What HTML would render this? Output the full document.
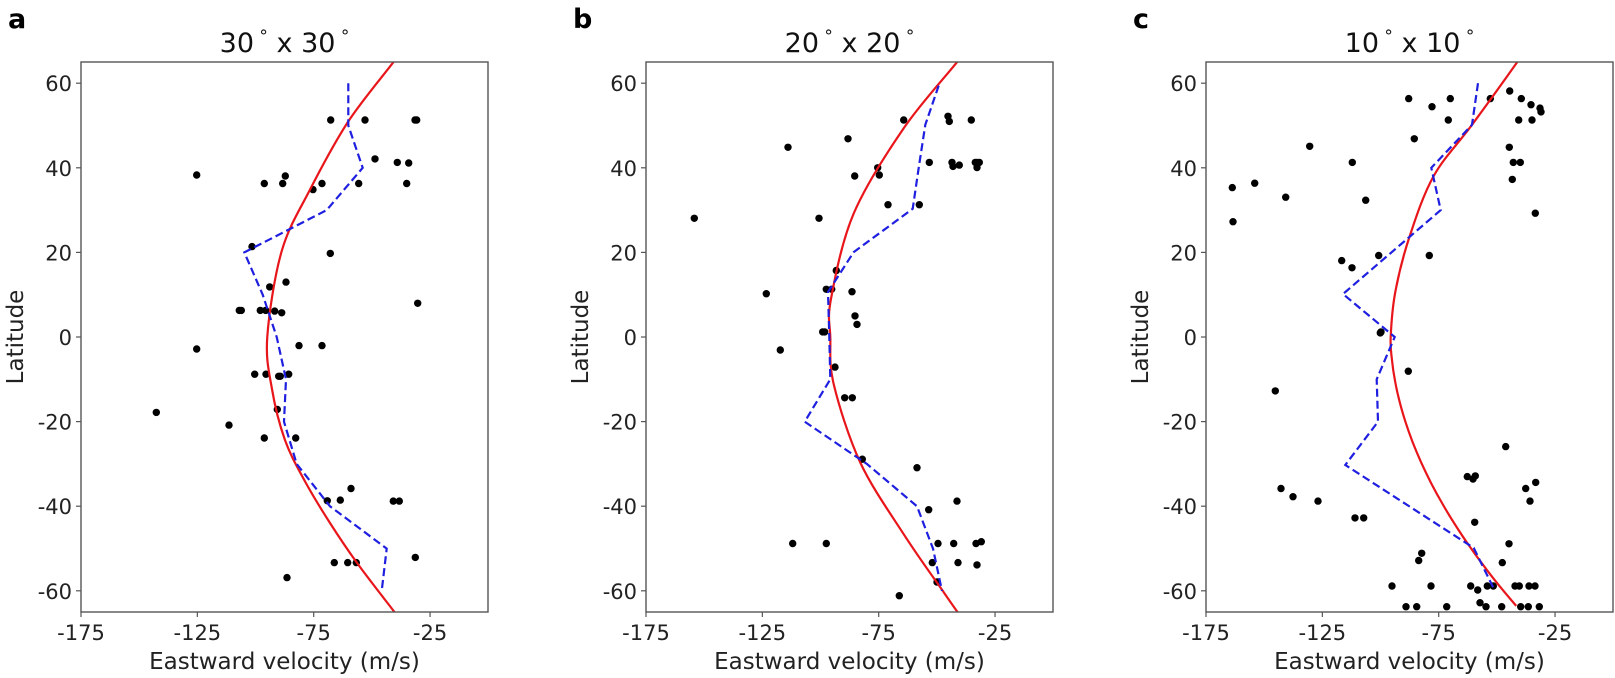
<!DOCTYPE html>
<html><head><meta charset="utf-8"><style>
html,body{margin:0;padding:0;background:#fff;}
svg{display:block;font-family:"DejaVu Sans","Liberation Sans",sans-serif;}
</style></head><body>
<svg id="s" width="1615" height="678" viewBox="0 0 1615 678" xmlns="http://www.w3.org/2000/svg"></svg>
<script>
const S=document.getElementById('s');
let h='';
const TOP=62,BOT=612,W=407;
const cLower=[];
for(let zy=880;zy<=1640;zy+=60){cLower.push([656+0.001595*Math.pow(zy-812,1.855),zy]);}
const panels=[
{L:81,cx:80,letter:'a',title:'30',
pts:[[752,176],[855,176],[1005,176],[1010,176],[885,290],[952,300],[986,302],[350,337],[616,340],[553,362],[608,362],[726,362],[836,362],[980,362],[699,380],[516,547],[751,567],[618,651],[569,665],[1013,713],[478,734],[484,734],[541,734],[557,734],[584,736],[605,741],[350,847],[657,837],[726,837],[524,921],[558,921],[596,927],[601,927],[626,921],[229,1033],[592,1024],[447,1070],[553,1108],[647,1108],[813,1256],[742,1292],[781,1290],[940,1293],[958,1293],[763,1473],[803,1473],[829,1473],[1006,1458],[621,1517]],
blue:[[805,68],[805,192],[848,316],[740,440],[493,564],[548,688],[590,812],[618,936],[612,1060],[650,1184],[750,1308],[920,1432],[905,1556]],
red:[[985,-60],[945,0],[805,180],[690,380],[605,560],[562,810],[575,960],[615,1114],[675,1235],[750,1357],[831,1474],[945,1620]]},
{L:646,cx:627,letter:'b',title:'20',
pts:[[830,176],[963,165],[967,180],[1033,176],[663,231],[483,256],[907,300],[975,300],[978,312],[997,308],[1045,300],[1050,300],[1057,300],[1050,315],[752,316],[757,337],[683,340],[783,424],[877,424],[202,464],[576,464],[628,617],[598,672],[614,672],[418,685],[675,679],[684,750],[690,775],[587,797],[593,797],[460,850],[624,900],[653,990],[676,990],[706,1170],[870,1195],[990,1293],[905,1318],[497,1417],[598,1417],[933,1417],[980,1417],[1047,1417],[1063,1412],[916,1473],[993,1473],[1050,1480],[930,1530],[817,1570]],
blue:[[935,75],[895,190],[875,316],[857,436],[680,563],[603,680],[607,812],[610,936],[533,1060],[720,1184],[870,1308],[918,1432],[945,1556]],
red:[[1035,-60],[995,0],[830,200],[680,450],[612,700],[610,812],[620,950],[700,1180],[830,1390],[950,1560],[993,1620]]},
{L:1206,cx:1172,letter:'c',title:'10',
pts:[[710,113],[780,137],[835,113],[955,113],[1013,91],[1048,113],[1077,131],[1104,141],[1107,152],[829,176],[1040,176],[1080,176],[727,231],[413,253],[1012,256],[541,300],[1024,300],[1045,300],[1021,350],[181,374],[248,361],[341,402],[581,411],[183,474],[1090,449],[509,588],[540,609],[620,573],[772,573],[627,797],[625,800],[709,912],[310,970],[1001,1133],[886,1221],[903,1228],[910,1219],[1061,1256],[1091,1238],[327,1256],[363,1280],[438,1293],[1074,1293],[549,1342],[575,1342],[908,1355],[749,1446],[740,1467],[1011,1418],[991,1473]],
extra:[[876,138],[993,138],[1112,138],[1133,150],[1162,138],[1180,138],[1245,138],[1258,138],[1287,138],[1305,138],[918,200],[950,200],[1040,200],[1140,188],[1158,200],[1205,200],[1262,200],[1285,200],[1318,200]],
blue:[[918,68],[900,190],[778,316],[806,440],[513,686],[668,812],[614,936],[618,1060],[520,1187],[905,1430],[968,1555]],
red:[[1080,-60],[1040,0],[900,190],[785,340],[712,520],[670,680],[656,812]].concat(cLower)}
];
const f=(p,cx)=>[cx+p[0]/3,60+p[1]/2.931];
const Y=lat=>337-lat*4.23;
function smooth(ps){
 let d=`M${ps[0][0].toFixed(1)},${ps[0][1].toFixed(1)}`;
 for(let i=0;i<ps.length-1;i++){
  const p0=ps[Math.max(i-1,0)],p1=ps[i],p2=ps[i+1],p3=ps[Math.min(i+2,ps.length-1)];
  const c1=[p1[0]+(p2[0]-p0[0])/6,p1[1]+(p2[1]-p0[1])/6];
  const c2=[p2[0]-(p3[0]-p1[0])/6,p2[1]-(p3[1]-p1[1])/6];
  d+=` C${c1[0].toFixed(1)},${c1[1].toFixed(1)} ${c2[0].toFixed(1)},${c2[1].toFixed(1)} ${p2[0].toFixed(1)},${p2[1].toFixed(1)}`;
 }
 return d;
}
panels.forEach((P,i)=>{
 const L=P.L,mid=L+W/2;
 h+=`<clipPath id="c${i}"><rect x="${L}" y="${TOP}" width="${W}" height="${BOT-TOP}"/></clipPath>`;
 h+=`<g clip-path="url(#c${i})">`;
 let all=P.pts.map(p=>f(p,P.cx));
 if(P.extra) all=all.concat(P.extra.map(p=>[1100+p[0]/3,540+p[1]/3]));
 all.forEach(q=>{h+=`<circle cx="${q[0].toFixed(1)}" cy="${q[1].toFixed(1)}" r="3.7" fill="#000"/>`;});
 h+=`<path d="${smooth(P.red.map(p=>f(p,P.cx)))}" fill="none" stroke="#e8161b" stroke-width="2.2"/>`;
 h+=`<polyline points="${P.blue.map(p=>f(p,P.cx).map(v=>v.toFixed(1)).join(',')).join(' ')}" fill="none" stroke="#1f1fe0" stroke-width="2.2" stroke-dasharray="8,4"/>`;
 h+=`</g>`;
 h+=`<rect x="${L}" y="${TOP}" width="${W}" height="${BOT-TOP}" fill="none" stroke="#555" stroke-width="1.4"/>`;
 [-175,-125,-75,-25].forEach(v=>{const x=L+(v+175)*2.327;
  h+=`<line x1="${x}" y1="${BOT}" x2="${x}" y2="${BOT+5}" stroke="#555" stroke-width="1.2"/>`;
  h+=`<text x="${x}" y="${BOT+28}" font-size="21" text-anchor="middle" fill="#222">${v}</text>`;});
 [60,40,20,0,-20,-40,-60].forEach(v=>{const y=Y(v);
  h+=`<line x1="${L-5}" y1="${y}" x2="${L}" y2="${y}" stroke="#555" stroke-width="1.2"/>`;
  h+=`<text x="${L-9}" y="${y+8}" font-size="21" text-anchor="end" fill="#222">${v}</text>`;});
 h+=`<text x="${mid}" y="${BOT+57}" font-size="23" text-anchor="middle" fill="#222">Eastward velocity (m/s)</text>`;
 h+=`<text transform="translate(${L-58},337) rotate(-90)" font-size="23" text-anchor="middle" fill="#222">Latitude</text>`;
 h+=`<text x="${mid}" y="52" font-size="27" text-anchor="middle" fill="#111">${P.title}<tspan font-size="17" dy="-10">&#160;°</tspan><tspan dy="10"> x ${P.title}</tspan><tspan font-size="17" dy="-10">&#160;°</tspan></text>`;
 h+=`<text x="${L-73}" y="28" font-size="27" font-weight="bold" fill="#000">${P.letter}</text>`;
});
S.innerHTML=h;
</script>
</body></html>
